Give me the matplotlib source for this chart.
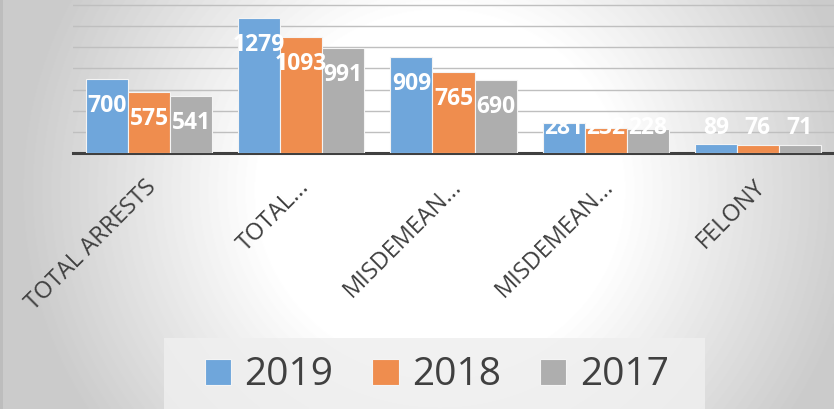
import numpy as np
import matplotlib.pyplot as plt
from matplotlib.patches import Rectangle

categories = ['TOTAL ARRESTS', 'TOTAL...', 'MISDEMEAN...', 'MISDEMEAN...', 'FELONY']
years = ['2019', '2018', '2017']
v2019 = [700, 1279, 909, 281, 89]
v2018 = [575, 1093, 765, 232, 76]
v2017 = [541, 991, 690, 228, 71]
colors = ['#6FA6DB', '#EF8D4E', '#AEAEAE']

plt.rcParams['font.family'] = ['Open Sans', 'DejaVu Sans']

fig = plt.figure(figsize=(8.34, 4.09), dpi=100)

# grey background, white in the middle
bg = fig.add_axes([0, 0, 1, 1], zorder=-10)
bg.axis('off')
h, w = 409, 834
yy, xx = np.mgrid[0:h, 0:w]
r = np.sqrt(((xx - 440) / 430.0) ** 2 + ((yy - 190) / 420.0) ** 2)
shade = 1 - 0.2 * np.clip((r - 0.42) / 0.55, 0, 1)
bg.imshow(shade, cmap='gray', vmin=0, vmax=1, aspect='auto', extent=[0, 1, 0, 1])
bg.set_xlim(0, 1)
bg.set_ylim(0, 1)
bg.add_patch(Rectangle((0, 0), 3 / 834, 1, color='#BDBDBD', lw=0))
bg.add_patch(Rectangle((164 / 834, 0), 541 / 834, 71 / 409, color='#EFEFEF', lw=0, alpha=0.85))

ax = fig.add_axes([73 / 834, 256 / 409, 761 / 834, 153 / 409])
ax.patch.set_alpha(0)

x = np.arange(len(categories))
bw = 0.276
series = [v2019, v2018, v2017]
for i, (vals, col, yr) in enumerate(zip(series, colors, years)):
    pos = x + (i - 1) * bw
    ax.bar(pos, vals, bw, color=col, edgecolor='#F4F4F4', linewidth=0.8, label=yr, zorder=3)
    for px, v in zip(pos, vals):
        ax.text(px, max(v - 255, 237), str(v), ha='center', va='center', color='white',
                fontsize=16.5, fontweight='bold', zorder=4)

ax.set_xlim(-0.5, 4.5)
ax.set_ylim(0, 1447)
ax.set_yticks(np.arange(200, 1401, 200))
ax.yaxis.grid(True, color='#BFBFBF', linewidth=1)
ax.set_axisbelow(True)
ax.tick_params(axis='y', length=0, labelleft=False)
ax.set_xticks(x)
ax.set_xticklabels([])
ax.tick_params(axis='x', length=0)
for s in ['top', 'right', 'left']:
    ax.spines[s].set_visible(False)
ax.spines['bottom'].set_color('#404040')
ax.spines['bottom'].set_linewidth(2.2)

for xi, lab in zip(x, categories):
    ax.annotate(lab, xy=(xi, 0), xycoords=('data', 'data'), xytext=(3, -22),
                textcoords='offset points', rotation=45, rotation_mode='anchor',
                ha='right', va='center', fontsize=17, color='#404040')

handles, labels = ax.get_legend_handles_labels()
fig.legend(handles, labels, loc='center', bbox_to_anchor=(0.524, 0.082), ncol=3,
           frameon=False, fontsize=28, handlelength=0.67, handleheight=0.67,
           handletextpad=0.36, columnspacing=1.0, labelcolor='#404040')

fig.savefig('out.png', dpi=100)
